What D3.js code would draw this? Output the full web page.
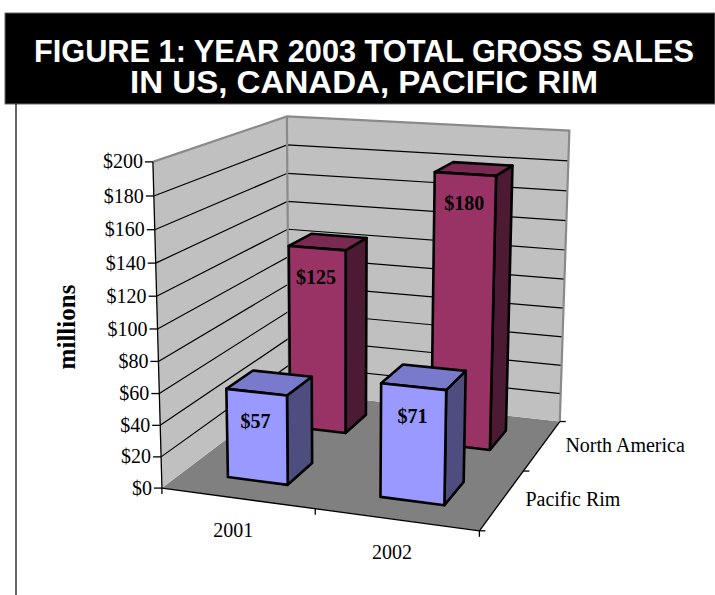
<!DOCTYPE html>
<html>
<head>
<meta charset="utf-8">
<script src="https://cdn.jsdelivr.net/npm/d3@7"></script>
<style>
  body { margin: 0; background: #fff; }
  svg { display: block; }
  text { font-family: "Liberation Serif", "Times New Roman", serif; }
</style>
</head>
<body>
<svg id="chart" width="715" height="595"></svg>
<script>
// ---- data ----
const years = ["2001", "2002"];
const regions = ["Pacific Rim", "North America"];   // front row first
const pacificRim = [57, 71];
const northAmerica = [125, 180];
const valueTicks = [0, 20, 40, 60, 80, 100, 120, 140, 160, 180, 200];
const tickLabels = valueTicks.map(v => "$" + v);
const titleLines = ["FIGURE 1: YEAR 2003 TOTAL GROSS SALES", "IN US, CANADA, PACIFIC RIM"];
const axisTitle = "millions";

const seriesValues = { "Pacific Rim": pacificRim, "North America": northAmerica };
const seriesColor = { "Pacific Rim": "#9999ff", "North America": "#993366" };

// ---- world scales (box: x = category, y = value, z = series depth) ----
const xScale = d3.scaleBand().domain(years).range([0, 2]).paddingInner(0.6).paddingOuter(0.3);
const zScale = d3.scaleBand().domain(regions).range([0, 2]).paddingInner(0.6).paddingOuter(0.3);
const yScale = d3.scaleLinear().domain([0, 200]).range([0, 2]);

// ---- perspective camera, solved from where the plot box corners sit on screen ----
const cameraAnchors = [
  [[0, 0, 0], [163, 487]],
  [[2, 0, 0], [478, 531]],
  [[2, 0, 2], [559, 420]],
  [[0, 0, 2], [288, 393]],
  [[0, 2, 0], [152, 162]],
  [[0, 2, 2], [288, 116]],
  [[2, 2, 2], [569, 131]],
  [[1, 0, 0], [315, 509]],
  [[2, 0, 1], [526, 472]],
  [[0, 1, 0], [157.5, 329]],
  [[0, 1, 2], [288, 256.7]]
];
const CX = 350, CY = 300, CS = 200;

function solveCamera(anchors) {
  const rows = [], rhs = [];
  anchors.forEach(([[X, Y, Z], [u0, v0]]) => {
    const u = (u0 - CX) / CS, v = (v0 - CY) / CS;
    rows.push([X, Y, Z, 1, 0, 0, 0, 0, -u * X, -u * Y, -u * Z]); rhs.push(u);
    rows.push([0, 0, 0, 0, X, Y, Z, 1, -v * X, -v * Y, -v * Z]); rhs.push(v);
  });
  const n = 11;
  const M = d3.range(n).map(i => {
    const r = d3.range(n).map(j => d3.sum(rows, (row) => row[i] * row[j]));
    r.push(d3.sum(rows, (row, k) => row[i] * rhs[k]));
    return r;
  });
  for (let c = 0; c < n; c++) {
    let piv = c;
    for (let r = c + 1; r < n; r++) if (Math.abs(M[r][c]) > Math.abs(M[piv][c])) piv = r;
    [M[c], M[piv]] = [M[piv], M[c]];
    for (let r = 0; r < n; r++) {
      if (r === c) continue;
      const f = M[r][c] / M[c][c];
      for (let k = c; k <= n; k++) M[r][k] -= f * M[c][k];
    }
  }
  return M.map((r, i) => r[n] / r[i]);
}
const P = solveCamera(cameraAnchors);
function project([X, Y, Z]) {
  const w = P[8] * X + P[9] * Y + P[10] * Z + 1;
  const u = (P[0] * X + P[1] * Y + P[2] * Z + P[3]) / w;
  const v = (P[4] * X + P[5] * Y + P[6] * Z + P[7]) / w;
  return [u * CS + CX, v * CS + CY];
}
const poly = pts => pts.map(p => project(p).join(",")).join(" ");
const line = d3.line();

const svg = d3.select("#chart");

// ---- title banner ----
svg.append("rect").attr("x", 5).attr("y", 13).attr("width", 710).attr("height", 91)
  .attr("fill", "#000").attr("stroke", "#666").attr("stroke-width", 1);
const titleWidths = [660, 468];
const title = svg.append("text")
  .attr("text-anchor", "middle")
  .attr("fill", "#fff")
  .style("font-family", "'Liberation Sans', Arial, sans-serif")
  .style("font-weight", "bold").style("font-size", "31px");
title.selectAll("tspan").data(titleLines).join("tspan")
  .attr("x", 364).attr("y", (d, i) => 62 + i * 31)
  .attr("textLength", (d, i) => titleWidths[i])
  .attr("lengthAdjust", "spacingAndGlyphs")
  .text(d => d);

// page frame edge
svg.append("line").attr("x1", 16).attr("x2", 16).attr("y1", 104).attr("y2", 595)
  .attr("stroke", "#000").attr("stroke-width", 1.2);

const [x0, x1] = xScale.range();
const [z0, z1] = zScale.range();
const yTop = yScale(200);

// ---- floor and walls ----
const plot = svg.append("g");
plot.append("polygon").attr("points", poly([[x0, 0, z0], [x1, 0, z0], [x1, 0, z1], [x0, 0, z1]]))
  .attr("fill", "#808080");
plot.append("polygon").attr("points", poly([[x0, 0, z0], [x0, 0, z1], [x0, yTop, z1], [x0, yTop, z0]]))
  .attr("fill", "#c0c0c0");
plot.append("polygon").attr("points", poly([[x0, 0, z1], [x1, 0, z1], [x1, yTop, z1], [x0, yTop, z1]]))
  .attr("fill", "#c0c0c0");

// gridlines on the walls
const inner = valueTicks.filter(v => v > 0 && v < 200);
inner.forEach(v => {
  const y = yScale(v);
  plot.append("path")
    .attr("d", line([project([x0, y, z0]), project([x0, y, z1]), project([x1, y, z1])]))
    .attr("fill", "none").attr("stroke", "#000").attr("stroke-width", 1.2);
});

// wall edges
[
  [[x0, yTop, z0], [x0, yTop, z1], [x1, yTop, z1], [x1, 0, z1]],
  [[x0, 0, z1], [x0, yTop, z1]]
].forEach(pts => {
  plot.append("path").attr("d", line(pts.map(project)))
    .attr("fill", "none").attr("stroke", "#8a8a8a").attr("stroke-width", 2.2)
    .attr("stroke-linejoin", "miter");
});

// ---- axes ----
const axes = svg.append("g").attr("stroke", "#000").attr("stroke-width", 1.3);
axes.append("path").attr("d", line([project([x0, 0, z0]), project([x0, yTop, z0])]));
axes.append("path").attr("d", line([project([x0, 0, z0]), project([x1, 0, z0])]));
axes.append("path").attr("d", line([project([x1, 0, z0]), project([x1, 0, z1])]));

valueTicks.forEach((v, i) => {
  const [px, py] = project([x0, yScale(v), z0]);
  axes.append("line").attr("x1", px - 8).attr("x2", px).attr("y1", py).attr("y2", py);
  svg.append("text").attr("x", px - 10).attr("y", py).attr("dy", "0.33em")
    .attr("text-anchor", "end").style("font-size", "20px").attr("fill", "#000")
    .text(tickLabels[i]);
});

// category ticks and labels
[0, 1, 2].forEach(k => {
  const [px, py] = project([x0 + k * (x1 - x0) / 2, 0, z0]);
  axes.append("line").attr("x1", px).attr("x2", px).attr("y1", py).attr("y2", py + 6);
});
years.forEach(yr => {
  const [px, py] = project([xScale(yr) + xScale.bandwidth() / 2, 0, z0]);
  svg.append("text").attr("x", px - 4).attr("y", py + 39)
    .attr("text-anchor", "middle").style("font-size", "20px").text(yr);
});

// depth ticks and labels
[0, 1, 2].forEach(k => {
  const [px, py] = project([x1, 0, z0 + k * (z1 - z0) / 2]);
  axes.append("line").attr("x1", px).attr("x2", px + 6).attr("y1", py).attr("y2", py);
});
regions.forEach(r => {
  const [px, py] = project([x1, 0, zScale(r) + zScale.bandwidth() / 2]);
  svg.append("text").attr("x", px + 23).attr("y", py).attr("dy", "0.33em")
    .attr("text-anchor", "start").style("font-size", "20px").text(r);
});

// axis title
svg.append("text").attr("transform", "translate(75,327) rotate(-90)")
  .attr("text-anchor", "middle").style("font-size", "25px").style("font-weight", "bold")
  .text(axisTitle);

// ---- bars, back row first ----
const shade = (c, k) => { const o = d3.rgb(c); return d3.rgb(o.r * k, o.g * k, o.b * k).formatHex(); };
const bars = [];
[...regions].reverse().forEach(r => {
  years.forEach((yr, i) => bars.push({ region: r, year: yr, value: seriesValues[r][i] }));
});
const barG = svg.append("g");
bars.forEach(b => {
  const bx0 = xScale(b.year), bx1 = bx0 + xScale.bandwidth();
  const bz0 = zScale(b.region), bz1 = bz0 + zScale.bandwidth();
  const h = yScale(b.value);
  const c = seriesColor[b.region];
  const g = barG.append("g").attr("stroke", "#000").attr("stroke-width", 2.6)
    .attr("stroke-linejoin", "round");
  g.append("polygon").attr("points", poly([[bx1, 0, bz0], [bx1, 0, bz1], [bx1, h, bz1], [bx1, h, bz0]]))
    .attr("fill", shade(c, 0.5));
  g.append("polygon").attr("points", poly([[bx0, h, bz0], [bx1, h, bz0], [bx1, h, bz1], [bx0, h, bz1]]))
    .attr("fill", shade(c, 0.8));
  g.append("polygon").attr("points", poly([[bx0, 0, bz0], [bx1, 0, bz0], [bx1, h, bz0], [bx0, h, bz0]]))
    .attr("fill", c);
  const [lx, ly] = project([(bx0 + bx1) / 2, h, bz0]);
  barG.append("text").attr("x", lx - 1).attr("y", ly + 36)
    .attr("text-anchor", "middle").style("font-size", "20px").style("font-weight", "bold")
    .attr("fill", "#000").text("$" + b.value);
});
</script>
</body>
</html>
